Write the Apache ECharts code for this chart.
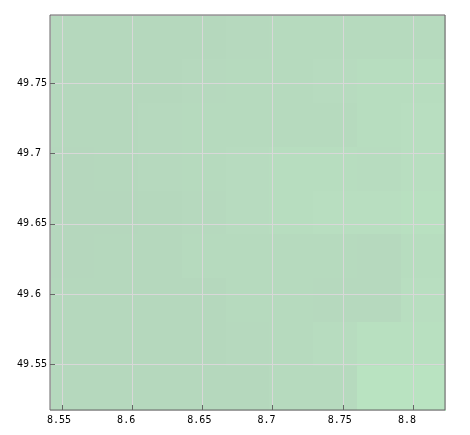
<!DOCTYPE html>
<html>
<head>
<meta charset="utf-8">
<script src="https://cdn.jsdelivr.net/npm/echarts@6/dist/echarts.min.js"></script>
<style>
html,body{margin:0;padding:0;background:#fff;}
#chart{width:470px;height:435px;}
</style>
</head>
<body>
<div id="chart"></div>
<script>
// Cell boundaries (longitude / latitude)
var lonEdges = [8.5415, 8.57275, 8.604, 8.63525, 8.6665, 8.69775, 8.729, 8.76025, 8.7915, 8.82275];
var latEdges = [49.5174, 49.54865, 49.5799, 49.61115, 49.6424, 49.67365, 49.7049, 49.73615, 49.7674, 49.79865];
// Values per cell, rows from north (top) to south (bottom), columns west to east
var gridValues = [
  [216, 216, 216, 216, 217, 218, 219, 219, 219],
  [216, 216, 216, 217, 218, 219, 220, 222, 222],
  [216, 216, 217, 218, 219, 219, 219, 222, 223],
  [215, 216, 217, 219, 220, 222, 222, 221, 223],
  [215, 215, 216, 217, 220, 222, 223, 223, 224],
  [215, 216, 216, 218, 219, 219, 218, 217, 222],
  [216, 216, 216, 216, 218, 218, 217, 217, 223],
  [216, 216, 216, 216, 217, 219, 221, 224, 224],
  [216, 216, 216, 216, 216, 218, 219, 227, 227]
];
var valueMin = 215, valueMax = 227;

var data = [];
var nRows = latEdges.length - 1;
for (var r = 0; r < nRows; r++) {
  for (var c = 0; c < lonEdges.length - 1; c++) {
    var li = nRows - 1 - r; // row 0 is the top (largest latitude)
    data.push([lonEdges[c], latEdges[li], lonEdges[c + 1], latEdges[li + 1], gridValues[r][c]]);
  }
}

var chart = echarts.init(document.getElementById('chart'), null, {renderer: 'canvas'});
var labelFont = {fontFamily: 'DejaVu Sans Mono', fontSize: 10, color: '#000'};
chart.setOption({
  animation: false,
  backgroundColor: '#fff',
  grid: {left: 50, top: 15, width: 395, height: 395, show: true, borderColor: '#666', borderWidth: 1, backgroundColor: 'transparent', z: 11},
  visualMap: {
    show: false, min: valueMin, max: valueMax, dimension: 4, seriesIndex: 0,
    inRange: {color: ['#b5d7bd', '#b7dcbf', '#b9e3c1']}
  },
  xAxis: {
    type: 'value', min: lonEdges[0], max: lonEdges[lonEdges.length - 1], z: 10,
    axisLine: {show: false},
    axisTick: {show: true, inside: true, length: 5, lineStyle: {color: '#666'}},
    splitLine: {show: true, lineStyle: {color: '#d8d8d8', width: 1}},
    axisLabel: Object.assign({margin: 5, showMinLabel: false, showMaxLabel: false,
      formatter: function (v) { var s = String(+v.toFixed(4)); while (s.length < 5) s += ' '; return s; }}, labelFont)
  },
  yAxis: {
    type: 'value', min: latEdges[0], max: latEdges[latEdges.length - 1], z: 10,
    axisLine: {show: false},
    axisTick: {show: true, inside: true, length: 5, lineStyle: {color: '#666'}},
    splitLine: {show: true, lineStyle: {color: '#d8d8d8', width: 1}},
    axisLabel: Object.assign({margin: 33, align: 'left', showMinLabel: false, showMaxLabel: false,
      formatter: function (v) { return String(+v.toFixed(4)); }}, labelFont)
  },
  series: [{
    type: 'custom',
    z: 2,
    data: data,
    encode: {x: [0, 2], y: [1, 3]},
    renderItem: function (params, api) {
      var p0 = api.coord([api.value(0), api.value(3)]);
      var p1 = api.coord([api.value(2), api.value(1)]);
      var x0 = Math.round(p0[0]), y0 = Math.round(p0[1]);
      var x1 = Math.round(p1[0]), y1 = Math.round(p1[1]);
      return {
        type: 'rect',
        shape: {x: x0, y: y0, width: x1 - x0 + 1, height: y1 - y0 + 1},
        style: {fill: api.visual('color'), stroke: null}
      };
    }
  }]
});
</script>
</body>
</html>
